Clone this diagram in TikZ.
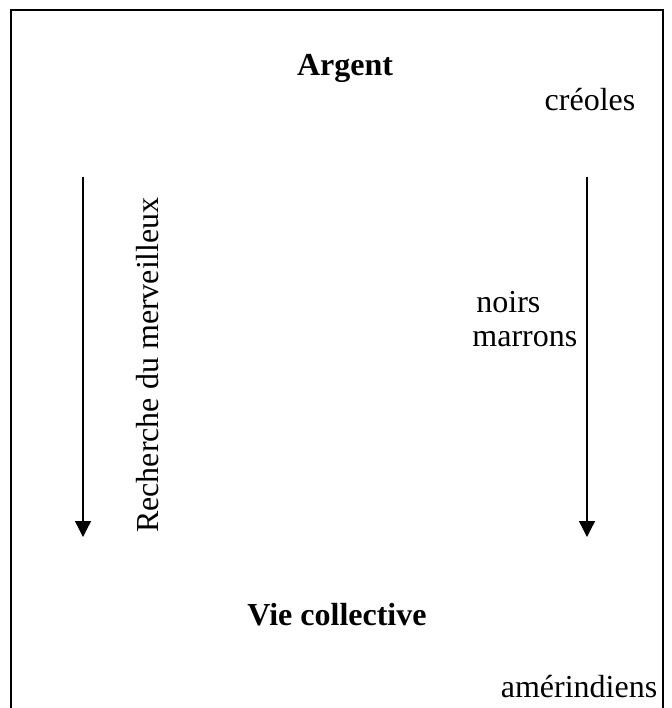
\documentclass[tikz,border=0pt]{standalone}
\usepackage{fontspec}
\setmainfont{Liberation Serif}
\usetikzlibrary{arrows.meta,positioning}

\begin{document}
\begin{tikzpicture}[x=0.5pt,y=-0.5pt,
 every node/.style={inner sep=0pt,font=\fontsize{16}{19}\selectfont},
 titre/.style={font=\fontsize{16}{19}\selectfont\bfseries},
 fleche/.style={line width=0.65pt,-{Triangle[width=8pt,length=8pt]}}]
\useasboundingbox (0,0) rectangle (671,708);
% cadre (coupe en bas)
\draw[line width=1pt] (11,720) |- (663,10) -- (663,720);
\node[titre,anchor=base] (argent) at (345,75) {Argent};
\node[anchor=base] (creoles) at (590,110) {créoles};
\node[anchor=base west] (noirs) at (476,312) {noirs};
\node[below=9pt of noirs.south west,anchor=north west,xshift=-2pt] (marrons) {marrons};
\node[rotate=90] (merveilleux) at (148,365) {Recherche du merveilleux};
\node[titre,anchor=base] (vie) at (337,625) {Vie collective};
\node[anchor=base] (amerindiens) at (579,697) {amérindiens};
% fleches
\coordinate (g1) at (83,177);
\coordinate (g2) at (83,537);
\coordinate (d1) at (587,177);
\coordinate (d2) at (587,537);
\draw[fleche] (g1) -- (g2);
\draw[fleche] (d1) -- (d2);
\end{tikzpicture}
\end{document}
